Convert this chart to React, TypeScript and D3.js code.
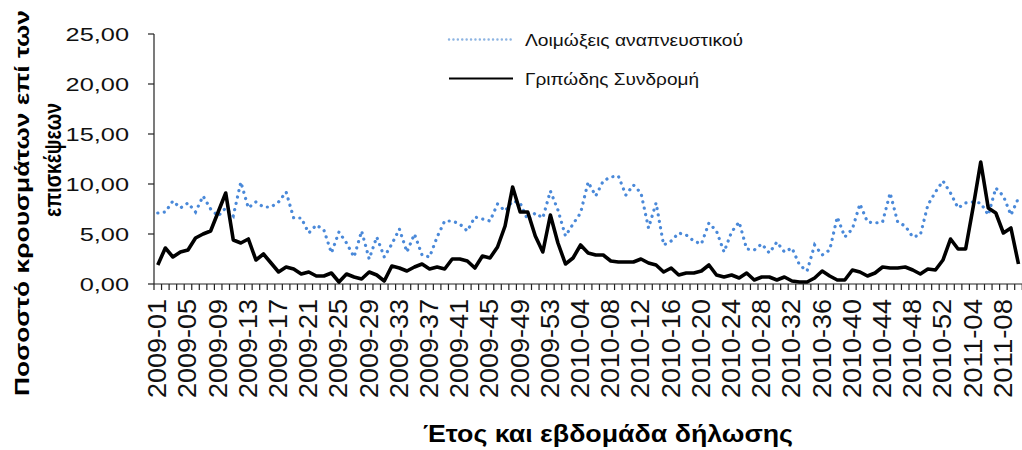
import { useEffect, useRef } from "react";
import * as d3 from "d3";

// weeks per year shown on the axis (2011 stops at week 10)
const YEAR_WEEKS: [number, number][] = [
  [2009, 53],
  [2010, 52],
  [2011, 10],
];

const categories: string[] = YEAR_WEEKS.flatMap(([y, n]) =>
  d3.range(1, n + 1).map((w) => `${y}-${String(w).padStart(2, "0")}`)
);

// Λοιμώξεις αναπνευστικού (blue, dotted)
const respiratory = [
  7.1, 7.2, 8.3, 7.6, 8.1, 7.2, 8.8, 7.5, 6.8, 7.6, 6.8, 10.2, 7.6, 8.2, 7.7, 7.7, 8.2, 9.2, 6.6, 6.6,
  5.1, 5.9, 5.4, 3.1, 5.2, 4.1, 2.7, 5.3, 2.5, 4.7, 2.7, 4.0, 5.5, 3.2, 5.0, 2.9, 2.7, 4.7, 6.3, 6.3,
  6.0, 5.3, 6.7, 6.5, 6.3, 8.0, 7.3, 8.3, 8.1, 6.4, 7.1, 6.6, 9.3, 7.4, 4.8, 6.0, 7.1, 10.2, 8.8, 10.3,
  10.7, 10.8, 8.9, 9.9, 9.1, 5.6, 8.1, 3.9, 4.3, 5.1, 4.9, 4.3, 4.0, 6.1, 5.3, 3.2, 5.2, 6.2, 3.5, 3.4,
  4.0, 3.1, 4.2, 3.2, 3.6, 1.9, 1.3, 3.9, 2.9, 3.4, 6.7, 4.7, 5.5, 8.0, 6.2, 6.1, 6.2, 9.1, 6.2, 5.8,
  4.7, 4.9, 7.9, 9.2, 10.3, 9.1, 7.6, 8.1, 8.2, 8.1, 6.9, 9.6, 8.8, 6.9, 8.6,
];

// Γριπώδης Συνδρομή (black, solid)
const influenzaLike = [
  1.9, 3.6, 2.7, 3.2, 3.4, 4.6, 5.0, 5.3, 7.2, 9.1, 4.4, 4.1, 4.5, 2.4, 3.0, 2.1, 1.2, 1.7, 1.5, 1.0,
  1.2, 0.8, 0.8, 1.1, 0.2, 1.0, 0.7, 0.5, 1.2, 0.9, 0.3, 1.8, 1.6, 1.3, 1.7, 2.0, 1.5, 1.7, 1.5, 2.5,
  2.5, 2.3, 1.6, 2.8, 2.6, 3.7, 5.8, 9.7, 7.2, 7.2, 4.8, 3.2, 6.9, 4.1, 2.0, 2.6, 3.9, 3.1, 2.9, 2.9,
  2.3, 2.2, 2.2, 2.2, 2.5, 2.1, 1.9, 1.2, 1.6, 0.9, 1.1, 1.1, 1.3, 1.9, 0.9, 0.7, 0.9, 0.6, 1.1, 0.4,
  0.7, 0.7, 0.4, 0.7, 0.3, 0.2, 0.2, 0.6, 1.3, 0.8, 0.4, 0.4, 1.4, 1.2, 0.8, 1.1, 1.7, 1.6, 1.6, 1.7,
  1.4, 1.0, 1.5, 1.4, 2.4, 4.5, 3.5, 3.5, 7.7, 12.2, 7.6, 7.1, 5.1, 5.6, 2.0,
];

const yTicks = [0, 5, 10, 15, 20, 25];
const seriesNames = ["Λοιμώξεις αναπνευστικού", "Γριπώδης Συνδρομή"];
const yTitle = ["Ποσοστό κρουσμάτων επί των", "επισκέψεων"];
const xTitle = "Έτος και εβδομάδα δήλωσης";

const W = 1022;
const H = 450;
const FONT = "'Liberation Sans', Arial, sans-serif";
const BLUE = "#4a89d9";

export default function App() {
  const ref = useRef<SVGSVGElement>(null);

  useEffect(() => {
    const svg = d3.select(ref.current);
    svg.selectAll("*").remove();

    const left = 154;
    const step = 7.55;
    const x = d3
      .scaleBand<string>()
      .domain(categories)
      .range([left, left + step * categories.length]);
    const y = d3.scaleLinear().domain([0, 25]).range([284, 34]);
    const cx = (i: number) => x(categories[i])! + x.bandwidth() / 2;

    // y axis
    const ya = svg.append("g").attr("stroke", "#222").attr("stroke-width", 1.2);
    ya.append("line").attr("x1", left).attr("x2", left).attr("y1", y(25)).attr("y2", y(0));
    ya.selectAll("line.t")
      .data(yTicks)
      .join("line")
      .attr("class", "t")
      .attr("x1", left - 6)
      .attr("x2", left)
      .attr("y1", (d) => y(d))
      .attr("y2", (d) => y(d));

    svg
      .append("g")
      .selectAll("text")
      .data(yTicks)
      .join("text")
      .attr("transform", (d) => `translate(129,${y(d) + 6.5}) scale(1.45,1)`)
      .attr("text-anchor", "end")
      .attr("font-family", FONT)
      .attr("font-size", 17.5)
      .attr("fill", "#111")
      .text((d) => d3.format(".2f")(d).replace(".", ","));

    // x axis
    const xa = svg.append("g").attr("stroke", "#222").attr("stroke-width", 1.2);
    xa.append("line").attr("x1", left).attr("x2", W).attr("y1", y(0)).attr("y2", y(0));
    xa.selectAll("line.t")
      .data(d3.range(categories.length + 1))
      .join("line")
      .attr("class", "t")
      .attr("x1", (i) => left + i * x.step())
      .attr("x2", (i) => left + i * x.step())
      .attr("y1", y(0))
      .attr("y2", y(0) + 6);

    svg
      .append("g")
      .selectAll("text")
      .data(categories.filter((_, i) => i % 4 === 0))
      .join("text")
      .attr("transform", (d) => `translate(${x(d)! + x.bandwidth() / 2 + 8.5},299) rotate(-90)`)
      .attr("text-anchor", "end")
      .attr("font-family", FONT)
      .attr("font-size", 25)
      .attr("textLength", 99)
      .attr("lengthAdjust", "spacingAndGlyphs")
      .attr("fill", "#111")
      .text((d) => d);

    // series
    const line = d3
      .line<number>()
      .x((_, i) => cx(i))
      .y((d) => y(d));

    svg
      .append("path")
      .attr("d", line(respiratory))
      .attr("fill", "none")
      .attr("stroke", BLUE)
      .attr("stroke-width", 3.2)
      .attr("stroke-linecap", "round")
      .attr("stroke-dasharray", "0.1 6.4");

    svg
      .append("path")
      .attr("d", line(influenzaLike))
      .attr("fill", "none")
      .attr("stroke", "#000")
      .attr("stroke-width", 3.6)
      .attr("stroke-linejoin", "round");

    // legend
    const lg = svg.append("g");
    lg.append("line")
      .attr("x1", 449)
      .attr("x2", 511)
      .attr("y1", 39.5)
      .attr("y2", 39.5)
      .attr("stroke", "#8db4e2")
      .attr("stroke-width", 2.4)
      .attr("stroke-linecap", "round")
      .attr("stroke-dasharray", "0.1 4.3");
    lg.append("line")
      .attr("x1", 449)
      .attr("x2", 513)
      .attr("y1", 78.5)
      .attr("y2", 78.5)
      .attr("stroke", "#000")
      .attr("stroke-width", 2);
    lg.selectAll("text")
      .data(seriesNames)
      .join("text")
      .attr("x", 525)
      .attr("y", (_, i) => 46 + i * 39)
      .attr("font-family", FONT)
      .attr("font-size", 16.5)
      .attr("textLength", (_, i) => (i === 0 ? 218 : 174))
      .attr("lengthAdjust", "spacingAndGlyphs")
      .attr("fill", "#111")
      .text((d) => d);

    // titles
    svg
      .append("text")
      .attr("x", 608)
      .attr("y", 442)
      .attr("text-anchor", "middle")
      .attr("font-family", FONT)
      .attr("font-weight", "bold")
      .attr("font-size", 23)
      .attr("textLength", 370)
      .attr("lengthAdjust", "spacingAndGlyphs")
      .attr("fill", "#000")
      .text(xTitle);

    svg
      .append("g")
      .selectAll("text")
      .data(yTitle)
      .join("text")
      .attr("transform", (_, i) => (i === 0 ? "translate(29,203) rotate(-90)" : "translate(61,160) rotate(-90)"))
      .attr("text-anchor", "middle")
      .attr("font-family", FONT)
      .attr("font-weight", "bold")
      .attr("font-size", (_, i) => (i === 0 ? 21 : 24))
      .attr("textLength", (_, i) => (i === 0 ? 386 : 114))
      .attr("lengthAdjust", "spacingAndGlyphs")
      .attr("fill", "#000")
      .text((d) => d);
  }, []);

  return (
    <svg
      ref={ref}
      width={W}
      height={H}
      style={{ position: "absolute", left: 0, top: 0, background: "#fff" }}
    />
  );
}
